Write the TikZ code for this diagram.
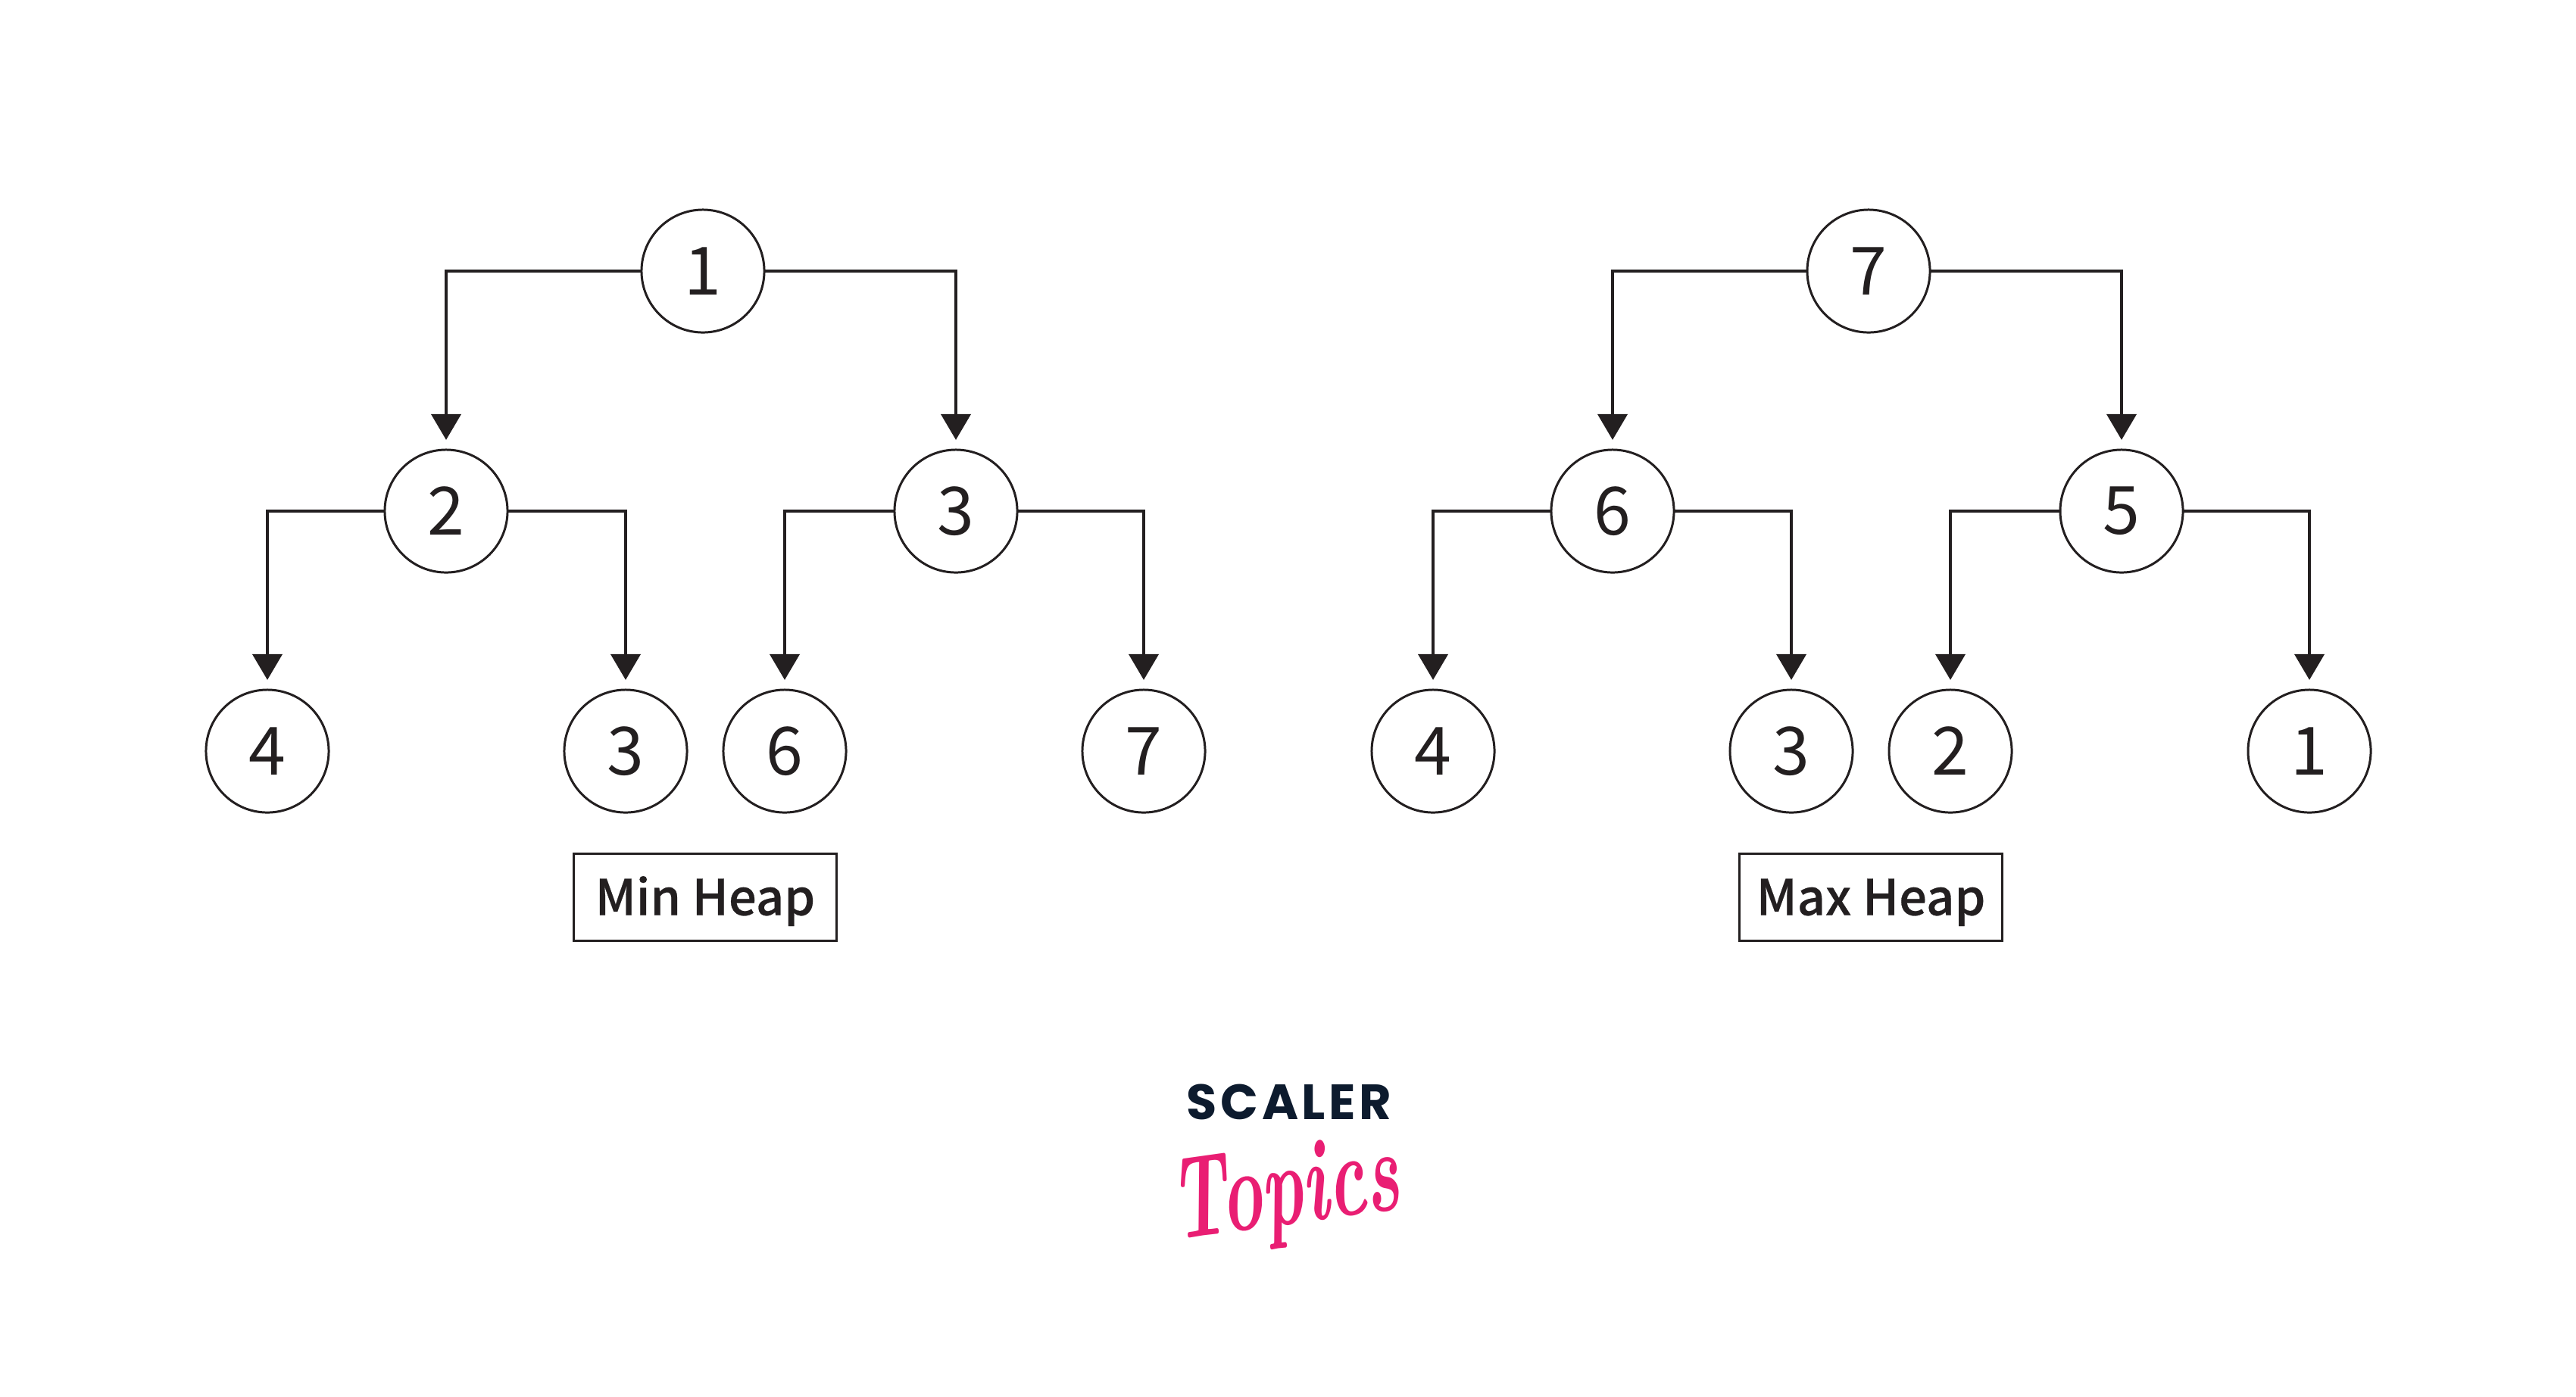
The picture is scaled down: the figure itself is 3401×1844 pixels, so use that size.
\documentclass[tikz,border=0pt]{standalone}
\usepackage{fontspec}
\usepackage{tikz}
\usetikzlibrary{arrows.meta}

\newfontfamily\heapfont{Noto Sans CJK SC}
\newfontfamily\heapboldfont{Noto Sans CJK SC Medium}[FakeBold=0.4]
\newfontfamily\scalerfont{Poppins}[UprightFont=* Bold, LetterSpace=7]

\begin{document}
\begin{tikzpicture}[x=0.01cm, y=-0.01cm]

    \tikzstyle{heapnode} = [circle, minimum size=1.62cm, inner sep=0pt, outer sep=0pt,
                            line width=0.85pt, draw=inkblack, text=inkblack,
                            font=\heapfont\fontsize{25}{30}\selectfont];
    \tikzstyle{heapbox} = [rectangle, minimum width=3.46cm, minimum height=1.15cm,
                           inner sep=0pt, outer sep=0pt, line width=0.85pt, draw=inkblack,
                           text height=0.48cm, text depth=0.01cm,
                           text=inkblack, font=\heapboldfont\fontsize{18.5}{22}\selectfont];
    \tikzstyle{heaparrow} = [-{Triangle[length=0.34cm, width=0.39cm]}, line width=1.1pt,
                             draw=inkblack, shorten >=0.13cm];

    \definecolor{inkblack}{RGB}{35,31,32}
    \definecolor{scalernavy}{RGB}{13,27,46}
    \definecolor{topicspink}{RGB}{233,30,115}

    \useasboundingbox (0,0) rectangle (3401,1844);

    % Min heap nodes
    \node[heapnode] (minroot) at (928,358) {1};
    \node[heapnode] (mintwo) at (589,675) {2};
    \node[heapnode] (minthree) at (1262,675) {3};
    \node[heapnode] (minfour) at (353,992) {4};
    \node[heapnode] (minthreeb) at (826,992) {3};
    \node[heapnode] (minsix) at (1036,992) {6};
    \node[heapnode] (minseven) at (1510,992) {7};
    \node[heapbox] (minlabel) at (931,1185) {Min Heap};

    % Max heap nodes
    \node[heapnode] (maxroot) at (2467,358) {7};
    \node[heapnode] (maxsix) at (2129,675) {6};
    \node[heapnode] (maxfive) at (2801,675) {5};
    \node[heapnode] (maxfour) at (1892,992) {4};
    \node[heapnode] (maxthree) at (2365,992) {3};
    \node[heapnode] (maxtwo) at (2575,992) {2};
    \node[heapnode] (maxone) at (3049,992) {1};
    \node[heapbox] (maxlabel) at (2470,1185) {Max Heap};

    % Arrows
    \draw[heaparrow] (minroot.west) -| (mintwo.north);
    \draw[heaparrow] (minroot.east) -| (minthree.north);
    \draw[heaparrow] (mintwo.west) -| (minfour.north);
    \draw[heaparrow] (mintwo.east) -| (minthreeb.north);
    \draw[heaparrow] (minthree.west) -| (minsix.north);
    \draw[heaparrow] (minthree.east) -| (minseven.north);

    \draw[heaparrow] (maxroot.west) -| (maxsix.north);
    \draw[heaparrow] (maxroot.east) -| (maxfive.north);
    \draw[heaparrow] (maxsix.west) -| (maxfour.north);
    \draw[heaparrow] (maxsix.east) -| (maxthree.north);
    \draw[heaparrow] (maxfive.west) -| (maxtwo.north);
    \draw[heaparrow] (maxfive.east) -| (maxone.north);

    % Logo
    \node[text=scalernavy, inner sep=0pt, font=\scalerfont\fontsize{18.6}{22}\selectfont] (scaler) at (1702,1455) {SCALER};
    \node[text=topicspink, inner sep=0pt, rotate=8, font=\bfseries\itshape\fontsize{44}{48}\selectfont] (topics) at (1697,1580) {\scalebox{0.6}[1]{Topics}};

\end{tikzpicture}
\end{document}
